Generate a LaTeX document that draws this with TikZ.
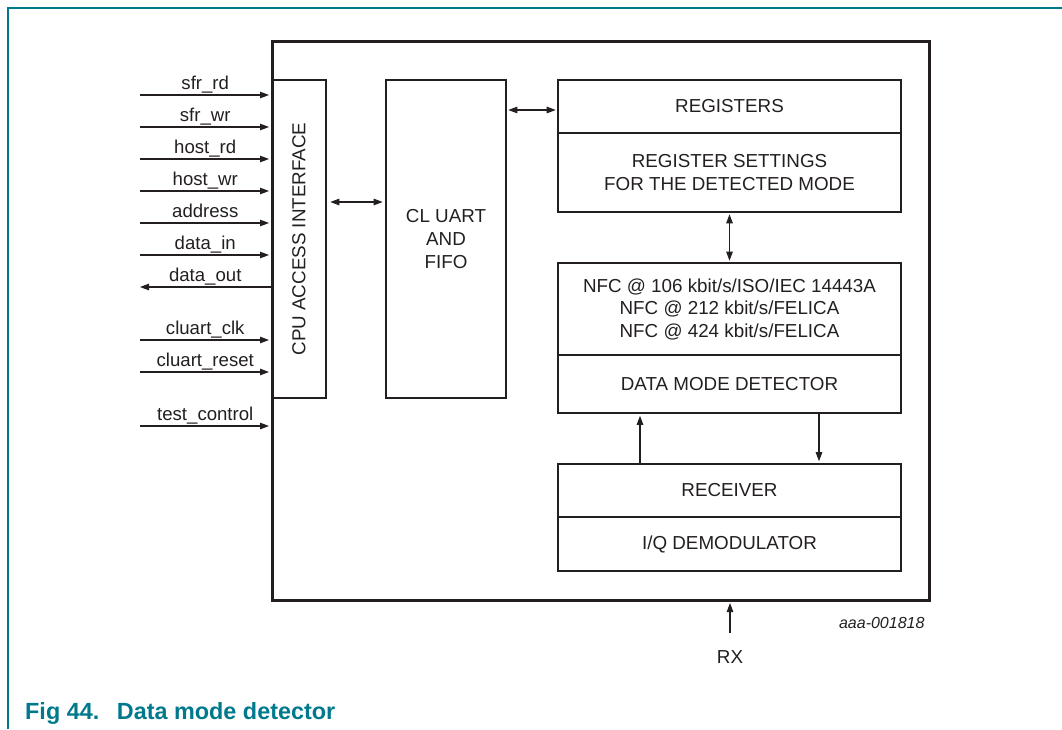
\documentclass[tikz,border=0pt]{standalone}
\usepackage{fontspec}
\setmainfont{Liberation Sans}
\usetikzlibrary{arrows.meta}
\definecolor{ink}{RGB}{35,31,32}
\definecolor{teal}{RGB}{0,121,140}
\begin{document}
\begin{tikzpicture}[x=1pt,y=-1pt,
  every node/.style={text=ink},
  blk/.style={draw=ink,line width=2.6pt,rectangle,inner sep=0pt,align=center,
     font=\fontsize{18.8}{23}\selectfont},
  sig/.style={draw=ink,line width=1.1pt,-{Triangle[length=9pt,width=6.5pt]}},
  dbl/.style={draw=ink,line width=1.1pt,{Triangle[length=9pt,width=6.5pt]}-{Triangle[length=9pt,width=6.5pt]}},
  lbl/.style={anchor=base,yshift=6pt,inner sep=0pt,font=\fontsize{18.6}{22}\selectfont}]
\useasboundingbox (0,0) rectangle (1062,729);
% page frame
\draw[teal,line width=1.5pt] (8,729) -- (8,8) -- (1062,8);
% blocks
\node[blk,line width=3pt,minimum width=657pt,minimum height=559pt] (outer) at (600.5,320.5) {};
\node[blk,minimum width=54pt,minimum height=318pt] (cpu) at (299,239) {};
\node[rotate=90,font=\fontsize{18.8}{22}\selectfont] (cputxt) at (cpu.center) {CPU ACCESS INTERFACE};
\node[blk,minimum width=120pt,minimum height=318pt] (uart) at (446,239) {CL UART\\AND\\FIFO};
\node[blk,minimum width=343pt,minimum height=53pt] (reg) at (729.5,106.5) {REGISTERS};
\node[blk,minimum width=343pt,minimum height=79pt] (regset) at (729.5,172.5) {REGISTER SETTINGS\\FOR THE DETECTED MODE};
\node[blk,minimum width=343pt,minimum height=92pt,font=\fontsize{18.8}{22.5}\selectfont] (nfc) at (729.5,309) {NFC @ 106 kbit/s/ISO/IEC 14443A\\NFC @ 212 kbit/s/FELICA\\NFC @ 424 kbit/s/FELICA};
\node[blk,minimum width=343pt,minimum height=58pt] (dmd) at (729.5,384) {DATA MODE DETECTOR};
\node[blk,minimum width=343pt,minimum height=53pt] (rcv) at (729.5,490.5) {RECEIVER};
\node[blk,minimum width=343pt,minimum height=54pt] (iq) at (729.5,544) {I/Q DEMODULATOR};
% internal connectors
\coordinate (ya) at (0,202);
\coordinate (yb) at (0,110);
\coordinate (xu) at (640,0);
\coordinate (xd) at (819,0);
\draw[dbl,shorten <=3pt,shorten >=2pt] (cpu.east |- ya) -- (uart.west |- ya);
\draw[dbl,shorten <=1pt,shorten >=1pt] (uart.east |- yb) -- (reg.west |- yb);
\draw[dbl,shorten <=1pt,shorten >=1pt] (regset.south) -- (nfc.north);
\draw[sig,shorten >=1.5pt] (rcv.north -| xu) -- (dmd.south -| xu);
\draw[sig,shorten >=1.5pt] (dmd.south -| xd) -- (rcv.north -| xd);
% RX
\node[font=\fontsize{18.8}{22}\selectfont] (rx) at (730,657) {RX};
\coordinate (rxs) at (730,633);
\draw[sig,shorten >=1.5pt] (rxs) -- (outer.south -| rxs);
\node[anchor=base east,font=\fontsize{16}{18}\selectfont\itshape] (code) at (928,628) {aaa-001818};
% left signals
\foreach \n/\y/\t in {s1/95/sfr\_rd, s2/127/sfr\_wr, s3/159/host\_rd, s4/191/host\_wr, s5/223/address, s6/255/data\_in, s8/340/cluart\_clk, s9/372/cluart\_reset, s10/426/test\_control}{
  \coordinate (\n) at (140,\y);
  \draw[sig,shorten >=1.5pt] (\n) -- node[lbl]{\t} (outer.west |- \n);
}
\coordinate (s7) at (140,287);
\draw[sig] (outer.west |- s7) -- node[lbl]{data\_out} (s7);
% caption
\node[anchor=base west,inner sep=0pt,text=teal,font=\fontsize{23.4}{27}\selectfont\bfseries] (cap) at (25,719) {Fig 44.\hspace{0.75em}Data mode detector};
\end{tikzpicture}
\end{document}
